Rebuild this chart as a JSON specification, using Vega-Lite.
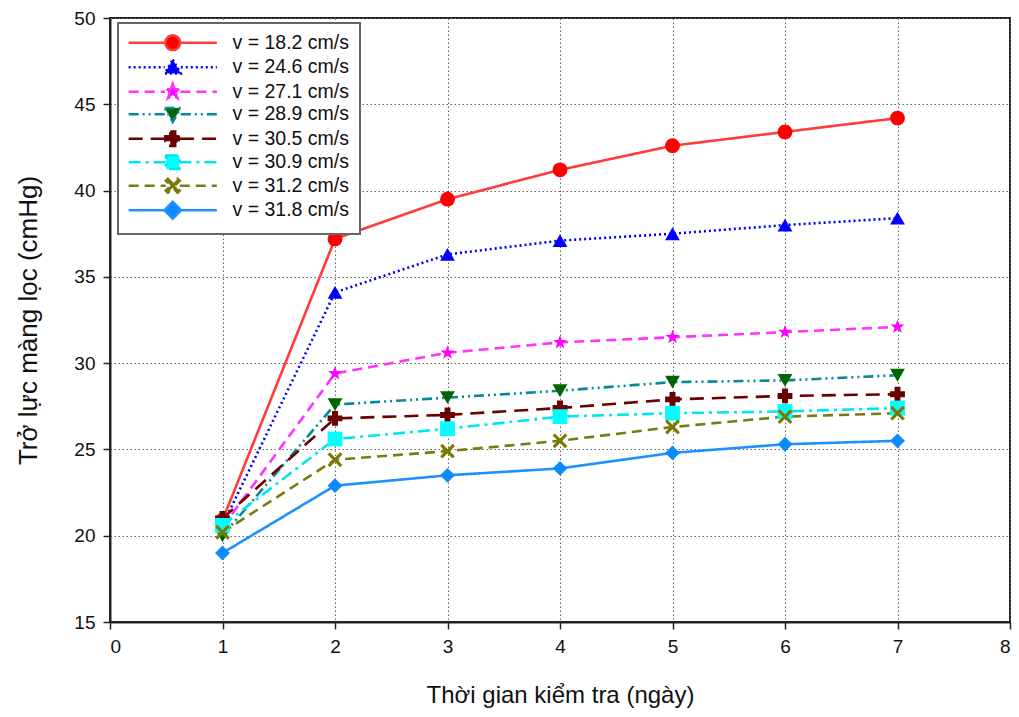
{
  "$schema": "https://vega.github.io/schema/vega-lite/v6.json",
  "width": 900,
  "height": 604,
  "autosize": {"type": "none"},
  "padding": {"left": 110, "top": 18, "right": 9, "bottom": 95},
  "background": "white",
  "config": {
    "font": "Liberation Sans",
    "view": {"stroke": "#222", "strokeWidth": 2},
    "axis": {
      "grid": true,
      "gridDash": [1.5, 2.5],
      "gridColor": "#666",
      "gridWidth": 1,
      "labelFont": "Liberation Sans",
      "labelFontSize": 19,
      "labelColor": "#111",
      "titleFont": "Liberation Sans",
      "titleFontWeight": "normal",
      "titleColor": "#111",
      "tickSize": 7,
      "tickColor": "#222",
      "tickWidth": 1.5,
      "domainColor": "#222",
      "domainWidth": 2
    },
    "legend": {
      "orient": "none",
      "legendX": 8,
      "legendY": 5,
      "strokeColor": "#666",
      "strokeWidth": 2,
      "fillColor": "white",
      "padding": 10,
      "labelFont": "Liberation Sans",
      "labelFontSize": 19.5,
      "labelColor": "#111",
      "symbolOffset": 35,
      "labelOffset": 50,
      "labelLimit": 300,
      "rowPadding": -1.5,
      "symbolSize": 196,
      "symbolStrokeWidth": 2.5,
      "symbolOpacity": 1
    }
  },
  "data": {
    "values": [
      {"d": 1, "v": 20.9, "s": "v = 18.2 cm/s"},
      {"d": 2, "v": 37.2, "s": "v = 18.2 cm/s"},
      {"d": 3, "v": 39.5, "s": "v = 18.2 cm/s"},
      {"d": 4, "v": 41.2, "s": "v = 18.2 cm/s"},
      {"d": 5, "v": 42.6, "s": "v = 18.2 cm/s"},
      {"d": 6, "v": 43.4, "s": "v = 18.2 cm/s"},
      {"d": 7, "v": 44.2, "s": "v = 18.2 cm/s"},
      {"d": 1, "v": 20.6, "s": "v = 24.6 cm/s"},
      {"d": 2, "v": 34.1, "s": "v = 24.6 cm/s"},
      {"d": 3, "v": 36.3, "s": "v = 24.6 cm/s"},
      {"d": 4, "v": 37.1, "s": "v = 24.6 cm/s"},
      {"d": 5, "v": 37.5, "s": "v = 24.6 cm/s"},
      {"d": 6, "v": 38.0, "s": "v = 24.6 cm/s"},
      {"d": 7, "v": 38.4, "s": "v = 24.6 cm/s"},
      {"d": 1, "v": 20.5, "s": "v = 27.1 cm/s"},
      {"d": 2, "v": 29.4, "s": "v = 27.1 cm/s"},
      {"d": 3, "v": 30.6, "s": "v = 27.1 cm/s"},
      {"d": 4, "v": 31.2, "s": "v = 27.1 cm/s"},
      {"d": 5, "v": 31.5, "s": "v = 27.1 cm/s"},
      {"d": 6, "v": 31.8, "s": "v = 27.1 cm/s"},
      {"d": 7, "v": 32.1, "s": "v = 27.1 cm/s"},
      {"d": 1, "v": 20.0, "s": "v = 28.9 cm/s"},
      {"d": 2, "v": 27.6, "s": "v = 28.9 cm/s"},
      {"d": 3, "v": 28.0, "s": "v = 28.9 cm/s"},
      {"d": 4, "v": 28.4, "s": "v = 28.9 cm/s"},
      {"d": 5, "v": 28.9, "s": "v = 28.9 cm/s"},
      {"d": 6, "v": 29.0, "s": "v = 28.9 cm/s"},
      {"d": 7, "v": 29.3, "s": "v = 28.9 cm/s"},
      {"d": 1, "v": 21.0, "s": "v = 30.5 cm/s"},
      {"d": 2, "v": 26.8, "s": "v = 30.5 cm/s"},
      {"d": 3, "v": 27.0, "s": "v = 30.5 cm/s"},
      {"d": 4, "v": 27.4, "s": "v = 30.5 cm/s"},
      {"d": 5, "v": 27.9, "s": "v = 30.5 cm/s"},
      {"d": 6, "v": 28.1, "s": "v = 30.5 cm/s"},
      {"d": 7, "v": 28.2, "s": "v = 30.5 cm/s"},
      {"d": 1, "v": 20.6, "s": "v = 30.9 cm/s"},
      {"d": 2, "v": 25.6, "s": "v = 30.9 cm/s"},
      {"d": 3, "v": 26.2, "s": "v = 30.9 cm/s"},
      {"d": 4, "v": 26.9, "s": "v = 30.9 cm/s"},
      {"d": 5, "v": 27.1, "s": "v = 30.9 cm/s"},
      {"d": 6, "v": 27.2, "s": "v = 30.9 cm/s"},
      {"d": 7, "v": 27.4, "s": "v = 30.9 cm/s"},
      {"d": 1, "v": 20.2, "s": "v = 31.2 cm/s"},
      {"d": 2, "v": 24.4, "s": "v = 31.2 cm/s"},
      {"d": 3, "v": 24.9, "s": "v = 31.2 cm/s"},
      {"d": 4, "v": 25.5, "s": "v = 31.2 cm/s"},
      {"d": 5, "v": 26.3, "s": "v = 31.2 cm/s"},
      {"d": 6, "v": 26.9, "s": "v = 31.2 cm/s"},
      {"d": 7, "v": 27.1, "s": "v = 31.2 cm/s"},
      {"d": 1, "v": 19.0, "s": "v = 31.8 cm/s"},
      {"d": 2, "v": 22.9, "s": "v = 31.8 cm/s"},
      {"d": 3, "v": 23.5, "s": "v = 31.8 cm/s"},
      {"d": 4, "v": 23.9, "s": "v = 31.8 cm/s"},
      {"d": 5, "v": 24.8, "s": "v = 31.8 cm/s"},
      {"d": 6, "v": 25.3, "s": "v = 31.8 cm/s"},
      {"d": 7, "v": 25.5, "s": "v = 31.8 cm/s"}
    ]
  },
  "resolve": {"scale": {"shape": "independent", "fill": "independent", "stroke": "independent", "strokeDash": "independent"}},
  "layer": [
    {
      "mark": {"type": "line", "strokeWidth": 2.6, "strokeCap": "butt"},
      "encoding": {
        "x": {
          "field": "d", "type": "quantitative",
          "scale": {"domain": [0, 8], "nice": false},
          "axis": {"values": [0, 1, 2, 3, 4, 5, 6, 7, 8], "format": "d", "title": "Thời gian kiểm tra (ngày)", "titleFontSize": 24, "labelPadding": 8, "titlePadding": 27}
        },
        "y": {
          "field": "v", "type": "quantitative",
          "scale": {"domain": [15, 50], "nice": false, "zero": false},
          "axis": {"values": [15, 20, 25, 30, 35, 40, 45, 50], "format": "d", "title": "Trở lực màng lọc (cmHg)", "titleFontSize": 26, "labelPadding": 8, "titlePadding": 32}
        },
        "stroke": {
          "field": "s", "type": "nominal",
          "scale": {
            "domain": ["v = 18.2 cm/s", "v = 24.6 cm/s", "v = 27.1 cm/s", "v = 28.9 cm/s", "v = 30.5 cm/s", "v = 30.9 cm/s", "v = 31.2 cm/s", "v = 31.8 cm/s"],
            "range": ["#FF3B3B", "#0000FF", "#FF33FF", "#008B99", "#6B0000", "#00E5EE", "#7A7A10", "#1E90FF"]
          },
          "legend": null
        },
        "strokeDash": {
          "field": "s", "type": "nominal",
          "scale": {
            "domain": ["v = 18.2 cm/s", "v = 24.6 cm/s", "v = 27.1 cm/s", "v = 28.9 cm/s", "v = 30.5 cm/s", "v = 30.9 cm/s", "v = 31.2 cm/s", "v = 31.8 cm/s"],
            "range": [[1, 0], [2, 3], [10, 6], [10, 4, 2, 4, 2, 4], [14, 8], [12, 5, 3, 5], [10, 6], [1, 0]]
          },
          "legend": null
        }
      }
    },
    {
      "mark": {"type": "point", "filled": true, "opacity": 1, "size": 220, "strokeWidth": 0},
      "encoding": {
        "x": {"field": "d", "type": "quantitative"},
        "y": {"field": "v", "type": "quantitative"},
        "fill": {
          "field": "s", "type": "nominal",
          "scale": {
            "domain": ["v = 18.2 cm/s", "v = 24.6 cm/s", "v = 27.1 cm/s", "v = 28.9 cm/s", "v = 30.5 cm/s", "v = 30.9 cm/s", "v = 31.2 cm/s", "v = 31.8 cm/s"],
            "range": ["#FF0000", "#0000FF", "#FF00FF", "#006400", "#6B0000", "#00FFFF", "#7A7A00", "#0A8CFF"]
          },
          "legend": null
        },
        "shape": {
          "field": "s", "type": "nominal",
          "scale": {
            "domain": ["v = 18.2 cm/s", "v = 24.6 cm/s", "v = 27.1 cm/s", "v = 28.9 cm/s", "v = 30.5 cm/s", "v = 30.9 cm/s", "v = 31.2 cm/s", "v = 31.8 cm/s"],
            "range": ["circle", "triangle-up", "M0,-1L0.235,-0.324L0.951,-0.309L0.38,0.124L0.588,0.809L0,0.4L-0.588,0.809L-0.38,0.124L-0.951,-0.309L-0.235,-0.324Z", "triangle-down", "cross", "square", "M-1,-0.7L-0.7,-1L0,-0.3L0.7,-1L1,-0.7L0.3,0L1,0.7L0.7,1L0,0.3L-0.7,1L-1,0.7L-0.3,0Z", "diamond"]
          },
          "legend": null
        }
      }
    },
    {
      "mark": {"type": "point", "filled": true, "opacity": 0, "strokeWidth": 2.5},
      "encoding": {
        "x": {"field": "d", "type": "quantitative"},
        "y": {"field": "v", "type": "quantitative"},
        "fill": {
          "field": "s", "type": "nominal",
          "scale": {
            "domain": ["v = 18.2 cm/s", "v = 24.6 cm/s", "v = 27.1 cm/s", "v = 28.9 cm/s", "v = 30.5 cm/s", "v = 30.9 cm/s", "v = 31.2 cm/s", "v = 31.8 cm/s"],
            "range": ["#FF0000", "#0000FF", "#FF00FF", "#006400", "#6B0000", "#00FFFF", "#7A7A00", "#0A8CFF"]
          },
          "legend": {"title": null}
        },
        "stroke": {
          "field": "s", "type": "nominal",
          "scale": {
            "domain": ["v = 18.2 cm/s", "v = 24.6 cm/s", "v = 27.1 cm/s", "v = 28.9 cm/s", "v = 30.5 cm/s", "v = 30.9 cm/s", "v = 31.2 cm/s", "v = 31.8 cm/s"],
            "range": ["#FF3B3B", "#0000FF", "#FF33FF", "#008B99", "#6B0000", "#00E5EE", "#7A7A10", "#1E90FF"]
          },
          "legend": {"title": null}
        },
        "strokeDash": {
          "field": "s", "type": "nominal",
          "scale": {
            "domain": ["v = 18.2 cm/s", "v = 24.6 cm/s", "v = 27.1 cm/s", "v = 28.9 cm/s", "v = 30.5 cm/s", "v = 30.9 cm/s", "v = 31.2 cm/s", "v = 31.8 cm/s"],
            "range": [[1, 0], [2, 3], [10, 6], [10, 4, 2, 4, 2, 4], [14, 8], [12, 5, 3, 5], [10, 6], [1, 0]]
          },
          "legend": {"title": null}
        },
        "shape": {
          "field": "s", "type": "nominal",
          "scale": {
            "domain": ["v = 18.2 cm/s", "v = 24.6 cm/s", "v = 27.1 cm/s", "v = 28.9 cm/s", "v = 30.5 cm/s", "v = 30.9 cm/s", "v = 31.2 cm/s", "v = 31.8 cm/s"],
            "range": [
              "M-6.3,0H-1.05M1.05,0H6.3M-1.05,0A1.05,1.05 0 1,1 1.05,0A1.05,1.05 0 1,1 -1.05,0Z",
              "M-6.3,0H-1.15M1.15,0H6.3M0,-1.1L1.15,0.9L-1.15,0.9Z",
              "M-6.3,0H-1.1M1.1,0H6.3M0,-1.15L0.27,-0.373L1.094,-0.355L0.437,0.143L0.676,0.93L0,0.46L-0.676,0.93L-0.437,0.143L-1.094,-0.355L-0.27,-0.373Z",
              "M-6.3,0H-1.15M1.15,0H6.3M-1.15,-0.9L1.15,-0.9L0,1.1Z",
              "M-6.3,0H-1.05M1.05,0H6.3M-0.35,-1.05H0.35V-0.35H1.05V0.35H0.35V1.05H-0.35V0.35H-1.05V-0.35H-0.35Z",
              "M-6.3,0H-0.95M0.95,0H6.3M-0.95,-0.95H0.95V0.95H-0.95Z",
              "M-6.3,0H-1M1,0H6.3M-1,-0.7L-0.7,-1L0,-0.3L0.7,-1L1,-0.7L0.3,0L1,0.7L0.7,1L0,0.3L-0.7,1L-1,0.7L-0.3,0Z",
              "M-6.3,0H-1.2M1.2,0H6.3M0,-1.2L1.2,0L0,1.2L-1.2,0Z"
            ]
          },
          "legend": {"title": null}
        }
      }
    }
  ]
}
